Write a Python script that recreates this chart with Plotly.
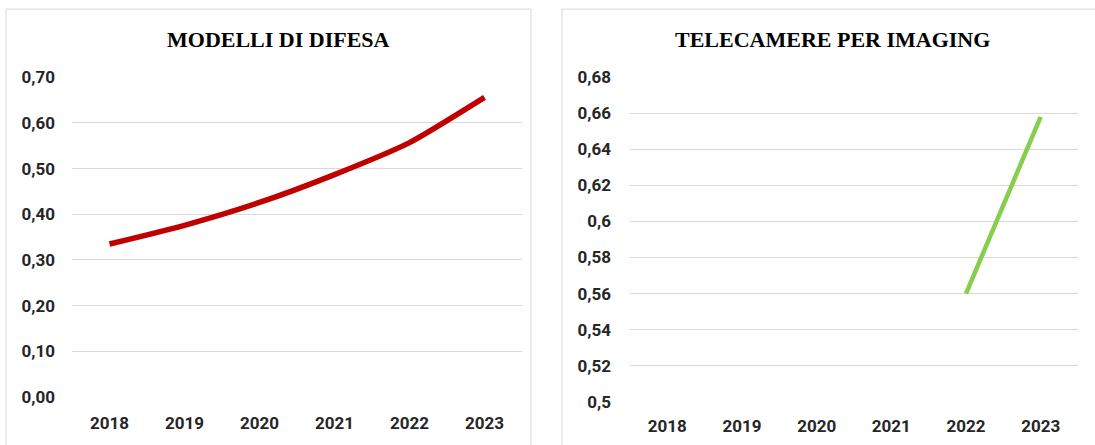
import plotly.graph_objects as go

W, H = 1095, 445

years = ["2018", "2019", "2020", "2021", "2022", "2023"]
difesa_values = [0.335, 0.376, 0.426, 0.487, 0.557, 0.656]
imaging_years = ["2022", "2023"]
imaging_values = [0.560, 0.658]

left_ticks = [0.0, 0.1, 0.2, 0.3, 0.4, 0.5, 0.6, 0.7]
left_ticktext = ["0,00", "0,10", "0,20", "0,30", "0,40", "0,50", "0,60", "0,70"]
right_ticks = [0.50, 0.52, 0.54, 0.56, 0.58, 0.60, 0.62, 0.64, 0.66, 0.68]
right_ticktext = ["0,5", "0,52", "0,54", "0,56", "0,58", "0,6", "0,62", "0,64", "0,66", "0,68"]

title_left = "MODELLI DI DIFESA"
title_right = "TELECAMERE PER IMAGING"

# vertical calibration of the capture (observed: shown_y = 0.959*y + 8.4)
VS, VO = 0.959, 8.4


def px_x(p):
    return p / W


def px_y(p):
    y = (p - VO) / VS
    return 1 - y / H


fig = go.Figure()
fig.add_trace(go.Scatter(x=years, y=difesa_values, mode="lines",
                         line=dict(color="#C00000", width=5.5, shape="spline", smoothing=0.6),
                         xaxis="x", yaxis="y", hoverinfo="skip"))
fig.add_trace(go.Scatter(x=imaging_years, y=imaging_values, mode="lines",
                         line=dict(color="#86CE4C", width=4.5),
                         xaxis="x2", yaxis="y2", hoverinfo="skip"))

tickfont = dict(family="Roboto, Open Sans, sans-serif", size=17, color="#262626", weight="bold")
grid = "#d9d9d9"

fig.update_layout(
    width=W, height=H,
    margin=dict(l=0, r=0, t=0, b=0),
    paper_bgcolor="white", plot_bgcolor="white",
    showlegend=False,
    xaxis=dict(domain=[px_x(72), px_x(522)], type="category", categoryorder="array",
               categoryarray=years, range=[-0.5, 5.5], showgrid=False, zeroline=False,
               showline=False, ticks="", tickfont=tickfont, ticklabelstandoff=14,
               anchor="y"),
    yaxis=dict(domain=[px_y(397), px_y(76)], range=[0, 0.7], tickvals=left_ticks,
               ticktext=left_ticktext, showgrid=True, gridcolor=grid, gridwidth=1,
               zeroline=False, showline=False, ticks="", tickfont=tickfont,
               ticklabelstandoff=16, anchor="x"),
    xaxis2=dict(domain=[px_x(630), px_x(1078)], type="category", categoryorder="array",
                categoryarray=years, range=[-0.5, 5.5], showgrid=False, zeroline=False,
                showline=False, ticks="", tickfont=tickfont, ticklabelstandoff=12,
                anchor="y2"),
    yaxis2=dict(domain=[px_y(401.7), px_y(76)], range=[0.5, 0.68], tickvals=right_ticks,
                ticktext=right_ticktext, showgrid=True, gridcolor=grid, gridwidth=1,
                zeroline=False, showline=False, ticks="", tickfont=tickfont,
                ticklabelstandoff=18, anchor="x2"),
    shapes=[
        dict(type="rect", xref="paper", yref="paper", x0=px_x(6), x1=px_x(531),
             y0=-0.1, y1=px_y(7.5), line=dict(color="#d9d9d9", width=1), layer="below"),
        dict(type="rect", xref="paper", yref="paper", x0=px_x(562), x1=px_x(1110),
             y0=-0.1, y1=px_y(7.5), line=dict(color="#d9d9d9", width=1), layer="below"),
    ],
    annotations=[
        dict(text="<b>%s</b>" % title_left, xref="paper", yref="paper", x=px_x(278), y=px_y(38),
             xanchor="center", yanchor="middle", showarrow=False,
             font=dict(family="Liberation Serif, Times New Roman, serif", size=22, color="#000000")),
        dict(text="<b>%s</b>" % title_right, xref="paper", yref="paper", x=px_x(832), y=px_y(38),
             xanchor="center", yanchor="middle", showarrow=False,
             font=dict(family="Liberation Serif, Times New Roman, serif", size=22, color="#000000")),
    ],
)

fig.write_html("out.html", config={"responsive": False, "displayModeBar": False},
               post_script="document.body.style.margin='0';document.body.style.overflow='hidden';")
